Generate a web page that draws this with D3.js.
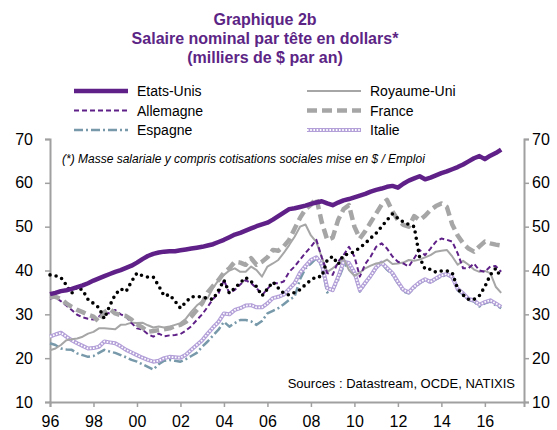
<!DOCTYPE html>
<html>
<head>
<meta charset="utf-8">
<script src="https://cdn.jsdelivr.net/npm/d3@7"></script>
<style>
  body { margin: 0; background: #fff; }
  svg { font-family: Arial, "Liberation Sans", sans-serif; }
</style>
</head>
<body>
<svg id="chart" width="557" height="430"></svg>
<script>
// quarterly dates, 1996 T1 -> 2016 T4
var quarters = d3.range(84).map(function(i){ return 1996 + i / 4; });
var yearTicks = [1996, 1998, 2000, 2002, 2004, 2006, 2008, 2010, 2012, 2014, 2016];
var valueTicks = [10, 20, 30, 40, 50, 60, 70];

var etatsUnis = [34.6,34.9,35.3,35.5, 35.8,36.2,36.6,37.1, 37.7,38.2,38.7,39.2, 39.7,40.1,40.6,41.1,
  41.8,42.6,43.3,43.8, 44.1,44.3,44.4,44.4, 44.6,44.8,45.0,45.2, 45.4,45.7,46.0,46.5,
  47.0,47.6,48.2,48.6, 49.1,49.6,50.1,50.5, 50.9,51.6,52.4,53.2, 54.0,54.2,54.5,54.8,
  55.2,55.5,55.8,55.3, 54.9,55.5,56.0,56.3, 56.7,57.1,57.5,58.0, 58.4,58.7,59.1,59.3,
  58.9,59.8,60.5,61.0, 61.5,60.8,61.2,61.7, 62.2,62.6,63.1,63.6, 64.2,64.9,65.6,66.1,
  65.4,66.2,66.8,67.6];
var japon = [39.0,38.8,38.4,36.7, 34.8,36.3,35.5,33.4, 32.5,31.5,29.0,32.0, 34.5,35.8,35.2,37.5,
  39.4,38.8,38.5,38.5, 36.5,34.2,34.5,33.0, 31.4,32.8,34.0,34.0, 34.0,33.6,33.4,35.5,
  37.8,34.8,36.0,37.2, 38.4,37.5,36.3,34.2, 35.8,37.4,36.0,34.8, 34.4,35.0,35.6,36.8,
  37.8,38.6,38.6,42.4, 43.2,41.4,43.5,43.8, 44.3,45.2,46.2,47.4, 48.5,50.0,51.5,52.9,
  51.9,51.1,50.5,50.0, 43.0,40.3,40.3,39.6, 39.9,39.9,39.5,35.8, 34.4,33.4,33.4,34.3,
  36.3,39.0,40.5,38.4];
var royaumeUni = [21.8,22.2,23.0,24.1, 24.3,24.5,24.9,25.6, 26.0,26.8,26.8,26.7, 26.6,27.6,27.7,28.1,
  28.0,28.1,27.5,27.0, 27.2,27.0,27.2,27.6, 28.0,29.0,30.6,32.0, 33.0,33.7,36.0,37.8,
  39.0,40.0,40.5,39.7, 39.7,40.9,40.1,38.6, 40.9,41.6,42.4,44.0, 45.8,47.7,50.0,50.5,
  48.0,46.5,43.0,39.7, 40.5,41.5,42.8,40.1, 38.8,39.5,40.5,41.1, 41.6,41.8,42.5,41.5,
  41.6,41.8,42.4,42.2, 42.5,43.0,43.5,44.3, 44.5,44.7,43.2,41.3, 42.2,41.3,40.2,39.7,
  39.9,39.4,36.3,34.9];
var allemagne = [33.6,33.8,33.0,32.0, 31.0,29.9,29.3,29.0, 28.8,29.5,30.5,30.2, 31.0,30.0,29.5,28.0,
  26.8,26.5,25.5,24.9, 25.6,25.0,25.2,25.3, 25.5,26.3,27.3,28.7, 30.0,31.7,33.5,34.8,
  37.8,34.8,35.6,36.8, 37.8,37.1,36.0,34.4, 35.8,37.1,37.1,37.5, 39.7,40.9,42.5,44.0,
  45.4,47.0,43.0,39.4, 39.0,42.0,43.5,45.4, 43.2,38.6,41.5,43.2, 45.4,46.2,45.0,43.2,
  42.0,41.6,40.9,42.8, 44.7,43.5,45.0,46.6, 47.3,47.0,46.6,43.9, 40.5,40.5,41.6,40.0,
  39.7,40.9,41.0,39.7];
var france = [34.0,34.0,33.5,32.5, 31.7,31.0,30.5,29.9, 29.5,28.3,30.5,31.2, 30.2,29.8,29.6,28.8,
  27.7,27.0,26.0,26.2, 26.4,26.6,26.8,27.3, 27.6,28.3,29.5,31.0, 32.5,35.0,36.5,37.8,
  39.5,40.5,42.0,41.8, 41.3,42.8,41.3,42.0, 43.0,44.7,44.5,45.5, 47.0,49.5,52.0,54.0,
  55.0,56.5,51.0,47.0, 47.5,51.5,54.0,54.9, 50.0,47.3,49.0,51.0, 53.0,55.0,56.1,53.5,
  51.5,50.4,50.0,52.4, 51.5,52.5,53.8,54.7, 55.3,54.5,50.5,48.0, 46.2,45.0,44.3,45.5,
  46.6,46.2,45.9,45.7];
var espagne = [23.4,23.0,22.2,22.0, 21.9,21.1,20.7,20.3, 20.5,21.2,21.9,21.5, 21.2,20.7,20.2,19.6,
  19.2,18.6,18.0,17.4, 18.6,19.4,19.6,19.4, 19.2,19.8,20.5,21.2, 22.6,23.8,25.2,26.5,
  28.3,27.2,28.0,28.7, 28.7,28.4,27.6,28.5, 30.2,30.8,31.4,32.3, 33.3,34.0,38.0,40.5,
  41.6,42.8,40.9,35.0, 35.5,37.8,41.0,41.5, 39.4,35.2,37.0,38.5, 40.5,41.6,40.2,39.0,
  37.1,35.2,34.8,36.0, 37.1,37.8,37.2,38.0, 38.6,39.0,38.4,35.5, 34.5,33.3,32.9,31.8,
  32.5,32.9,32.1,31.4];
var italie = [24.9,25.4,25.8,24.9, 24.1,23.4,22.8,22.2, 22.3,22.6,23.8,23.6, 23.4,22.7,21.9,21.3,
  20.7,20.1,19.6,19.2, 19.4,20.0,20.3,20.2, 20.1,20.8,21.9,23.0, 24.1,25.6,27.0,28.3,
  30.2,30.0,31.0,31.4, 32.0,32.1,31.6,31.6, 32.5,33.7,34.0,34.5, 35.8,37.1,39.5,41.0,
  42.4,43.0,41.5,36.0, 35.5,38.5,42.0,41.7, 39.6,35.5,37.2,38.8, 40.7,41.8,40.6,39.4,
  37.4,35.6,35.0,36.3, 37.3,38.0,37.4,38.2, 38.9,39.2,38.5,35.8, 34.8,33.5,33.2,32.2,
  32.8,33.2,32.5,31.7];

var violet = "#5f2188";
var gris = "#a6a6a6";

var series = [
  {name:"Espagne", values:espagne, style:[{stroke:"#7799aa", width:2.5, dash:"9,3,2,3"}]},
  {name:"Italie", values:italie, style:[{stroke:"#b3a0d8", width:4}, {stroke:"#fff", width:1.8, dash:"1.6,1.6"}]},
  {name:"Royaume-Uni", values:royaumeUni, style:[{stroke:gris, width:2}]},
  {name:"Allemagne", values:allemagne, style:[{stroke:violet, width:2, dash:"5,3"}]},
  {name:"France", values:france, style:[{stroke:gris, width:4.5, dash:"10,5"}]},
  {name:"Japon", values:japon, style:[{stroke:"#000", width:3.6, dash:"0,6.2", cap:"round"}]},
  {name:"Etats-Unis", values:etatsUnis, style:[{stroke:violet, width:4.5}]}
];

var svg = d3.select("#chart");
var x = d3.scaleLinear().domain([1996, 2017.8]).range([50, 524]);
var y = d3.scaleLinear().domain([10, 70]).range([402, 139]);

// titre
var titre = ["Graphique 2b", "Salaire nominal par tête en dollars*", "(milliers de $ par an)"];
svg.append("g").selectAll("text").data(titre).enter().append("text")
  .attr("x", 265).attr("y", function(d, i){ return 25 + i * 19; })
  .attr("text-anchor", "middle")
  .style("font-size", "16px").style("font-weight", "bold").style("fill", "#5c2585")
  .text(function(d){ return d; });

// axes
var axisColor = "#a0a0a0";
function styleAxis(g){
  g.select(".domain").attr("stroke", axisColor).attr("stroke-width", 2);
  g.selectAll(".tick line").attr("stroke", axisColor).attr("stroke-width", 1.5);
  g.selectAll(".tick text").attr("fill", "#000").style("font-size", "16px").style("font-family", "Arial, 'Liberation Sans', sans-serif");
}
svg.append("g").attr("transform", "translate(50,0)")
  .call(d3.axisLeft(y).tickValues(valueTicks).tickSizeOuter(0).tickSize(5).tickPadding(12))
  .call(styleAxis);
svg.append("g").attr("transform", "translate(524,0)")
  .call(d3.axisRight(y).tickValues(valueTicks).tickSizeOuter(0).tickSize(5).tickPadding(3))
  .call(styleAxis);
svg.append("g").attr("transform", "translate(0,402)")
  .call(d3.axisBottom(x).tickValues(yearTicks).tickSizeOuter(0).tickSize(5).tickPadding(9)
    .tickFormat(function(d){ return d3.format("02")(d % 100); }))
  .call(styleAxis);

// courbes
var line = d3.line()
  .x(function(d, i){ return x(quarters[i]); })
  .y(function(d){ return y(d); })
  .curve(d3.curveLinear);

var plot = svg.append("g");
series.forEach(function(s){
  s.style.forEach(function(st){
    plot.append("path")
      .attr("d", line(s.values))
      .attr("fill", "none")
      .attr("stroke", st.stroke)
      .attr("stroke-width", st.width)
      .attr("stroke-dasharray", st.dash || null)
      .attr("stroke-linecap", st.cap || "butt")
      .attr("stroke-linejoin", "round");
  });
});

// legende
var legende = [
  {s:"Etats-Unis", col:0, row:0}, {s:"Allemagne", col:0, row:1}, {s:"Espagne", col:0, row:2},
  {s:"Royaume-Uni", col:1, row:0}, {s:"France", col:1, row:1}, {s:"Italie", col:1, row:2}
];
var leg = svg.append("g");
legende.forEach(function(l){
  var s = series.find(function(d){ return d.name === l.s; });
  var x0 = l.col === 0 ? 74 : 307;
  var yy = 91 + l.row * 19.5;
  s.style.forEach(function(st){
    leg.append("line")
      .attr("x1", x0).attr("x2", x0 + 54).attr("y1", yy).attr("y2", yy)
      .attr("stroke", st.stroke).attr("stroke-width", st.width)
      .attr("stroke-dasharray", st.dash || null)
      .attr("stroke-linecap", st.cap || "butt");
  });
  leg.append("text")
    .attr("x", x0 + 63).attr("y", yy + 5)
    .style("font-size", "14px").style("fill", "#000")
    .text(l.s);
});

// notes
svg.append("text").attr("x", 62).attr("y", 163)
  .style("font-size", "12px").style("font-style", "italic")
  .text("(*) Masse salariale y compris cotisations sociales mise en $ / Emploi");
svg.append("text").attr("x", 515).attr("y", 388).attr("text-anchor", "end")
  .style("font-size", "13px")
  .text("Sources : Datastream, OCDE, NATIXIS");
</script>
</body>
</html>
